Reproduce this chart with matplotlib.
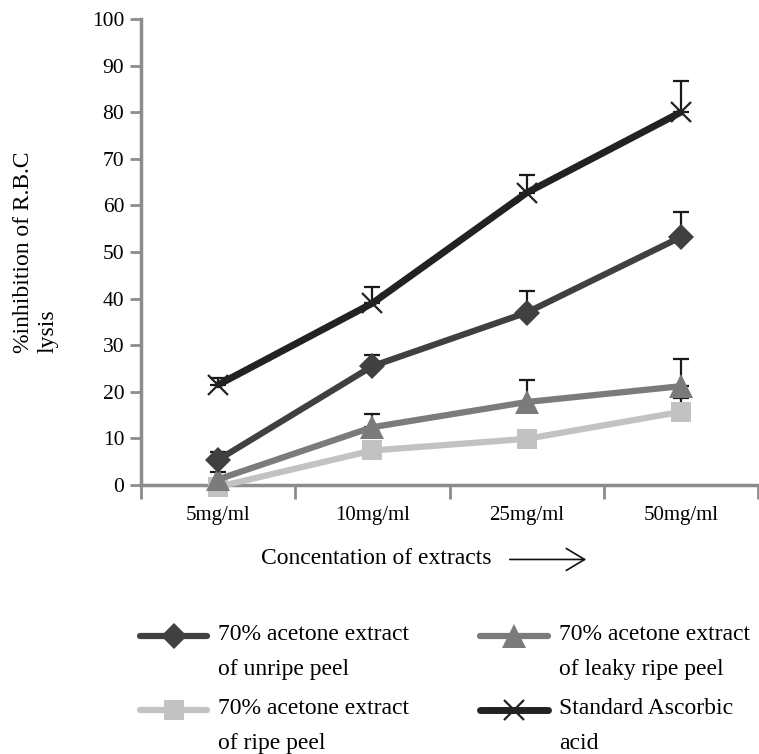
import matplotlib.pyplot as plt
import numpy as np
from matplotlib.patches import FancyArrowPatch
from matplotlib.legend_handler import HandlerLine2D

plt.rcParams['font.family'] = ['Liberation Serif', 'DejaVu Serif']

# %%
# Values
concentrations = ["5mg/ml", "10mg/ml", "25mg/ml", "50mg/ml"]

unripe = [5.4, 25.5, 37.0, 53.2]
unripe_err = [1.6, 2.5, 4.7, 5.4]

leaky_ripe = [1.2, 12.4, 17.8, 21.2]
leaky_ripe_err = [1.6, 2.8, 4.7, 5.8]

ripe = [-0.4, 7.4, 9.9, 15.7]
ripe_err = [0.5, 0.8, 1.0, 3.0]

ascorbic = [21.5, 39.0, 62.7, 80.0]
ascorbic_err = [1.5, 3.5, 3.8, 6.7]

legend_labels = ["70% acetone extract\nof unripe peel",
                 "70% acetone extract\nof ripe peel",
                 "70% acetone extract\nof leaky ripe peel",
                 "Standard Ascorbic\nacid"]

# %%
fig = plt.figure(figsize=(7.59, 7.54), dpi=100)
ax = fig.add_axes([0.1858, 0.3568, 0.8129, 0.618])

x = np.arange(len(concentrations))
spine_col = "#8c8c8c"


def draw(vals, errs, color, marker, ms, lw, mew=0):
    ax.errorbar(x, vals, yerr=[np.zeros(len(errs)), errs], fmt="none",
                ecolor="#1a1a1a", elinewidth=1.6, capsize=5.5, capthick=1.6, zorder=2)
    ln, = ax.plot(x, vals, color=color, lw=lw, marker=marker, ms=ms,
                  markeredgewidth=mew, markeredgecolor=color, zorder=3,
                  solid_capstyle="round", clip_on=False)
    return ln


h_ripe = draw(ripe, ripe_err, "#c2c2c2", "s", 15, 4.5)
h_leaky = draw(leaky_ripe, leaky_ripe_err, "#7b7b7b", "^", 17, 4.5)
h_unripe = draw(unripe, unripe_err, "#404040", "D", 13, 4.5)
h_asc = draw(ascorbic, ascorbic_err, "#222222", "x", 15, 5, mew=1.6)

ax.set_xlim(-0.5, 3.5)
ax.set_ylim(0, 100)
ax.set_yticks(np.arange(0, 101, 10))
ax.set_xticks(np.arange(-0.5, 3.6, 1))
ax.set_xticklabels([])
ax.set_xticks(x, minor=True)
ax.set_xticklabels(concentrations, minor=True)
ax.tick_params(axis="x", which="minor", length=0, pad=15, labelsize=15)
ax.tick_params(axis="x", which="major", length=10, width=2, color=spine_col)
ax.tick_params(axis="y", length=8, width=2, color=spine_col, labelsize=15.5, pad=4)

for s in ["top", "right"]:
    ax.spines[s].set_visible(False)
for s in ["left", "bottom"]:
    ax.spines[s].set_color(spine_col)
    ax.spines[s].set_linewidth(2.5)

ax.set_ylabel("%inhibition of R.B.C\nlysis", fontsize=17, labelpad=24)
ax.yaxis.label.set_multialignment("left")

fig.text(0.496, 0.259, "Concentation of extracts", fontsize=17,
         ha="center", va="center")
fig.add_artist(FancyArrowPatch(
    (0.668, 0.258), (0.776, 0.258), transform=fig.transFigure,
    arrowstyle="->,head_length=0.6,head_width=0.36", mutation_scale=22,
    lw=1.2, color="#111111"))


# legend handles sit next to the first line of the label
class UpperHandler(HandlerLine2D):
    def create_artists(self, legend, orig_handle, xdescent, ydescent,
                       width, height, fontsize, trans):
        arts = super().create_artists(legend, orig_handle, xdescent, ydescent,
                                      width, height, fontsize, trans)
        for a in arts:
            a.set_ydata(np.asarray(a.get_ydata()) + 0.66 * fontsize)
        return arts


leg = fig.legend([h_unripe, h_ripe, h_leaky, h_asc], legend_labels,
                 loc="lower left", bbox_to_anchor=(0.1845, 0.0), ncol=2,
                 frameon=False, fontsize=17, handlelength=2.85,
                 handletextpad=0.47, columnspacing=3.0, labelspacing=0.8,
                 borderpad=0, borderaxespad=0,
                 handler_map={plt.Line2D: UpperHandler()})
for t in leg.get_texts():
    t.set_linespacing(1.85)

plt.savefig("out.png", dpi=100)
